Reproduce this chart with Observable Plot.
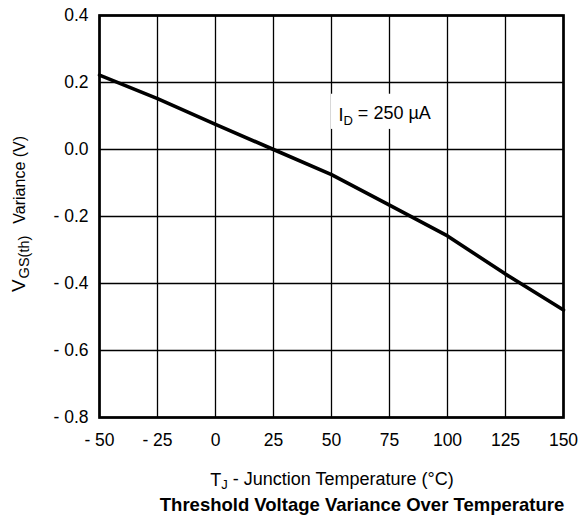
<!DOCTYPE html>
<html><head><meta charset="utf-8">
<script src="https://cdn.jsdelivr.net/npm/d3@7"></script>
<script src="https://cdn.jsdelivr.net/npm/@observablehq/plot@0.6"></script>
<style>
body{margin:0;background:#fff;font-family:"Liberation Sans",Arial,Helvetica,sans-serif;}
#chart{width:578px;height:494px;}
#title{width:578px;box-sizing:border-box;padding-left:146px;margin-top:1px;text-align:center;font-weight:bold;font-size:18.5px;line-height:20px;color:#000;white-space:nowrap;}
</style></head><body>
<div id="chart"></div>
<div id="title">Threshold Voltage Variance Over Temperature</div>
<script>
const temperature = [-50, -25, 0, 25, 50, 75, 100, 125, 150];
const variance = [0.222, 0.152, 0.075, 0.0, -0.075, -0.166, -0.258, -0.372, -0.479];
const xTicks = [-50, -25, 0, 25, 50, 75, 100, 125, 150];
const yTicks = [0.4, 0.2, 0.0, -0.2, -0.4, -0.6, -0.8];
const annotationMain = "I";
const annotationSub = "D";
const annotationRest = " = 250 µA";
const annotationAt = [53, 0.103];
const annotationBoxX = [50, 94];
const annotationBoxY = [0.06, 0.165];
const xLabelMain = "T", xLabelSub = "J", xLabelRest = " - Junction Temperature (°C)";
const yLabelMain = "V", yLabelSub = "GS(th)", yLabelRest = "Variance (V)";

const FONT = '"Liberation Sans", Arial, Helvetica, sans-serif';
const data = temperature.map((t, i) => ({t, v: variance[i]}));
const box = [{x1: annotationBoxX[0], x2: annotationBoxX[1], y1: annotationBoxY[0], y2: annotationBoxY[1]}];
const fmtX = d => d < 0 ? "- " + Math.abs(d) : String(d);
const fmtY = d => d < 0 ? "- " + Math.abs(d).toFixed(1) : d.toFixed(1);
const annText = annotationMain + annotationSub + annotationRest;

const plot = Plot.plot({
  width: 578, height: 494,
  marginLeft: 99, marginRight: 15, marginTop: 15, marginBottom: 77,
  style: {fontFamily: FONT, fontSize: "17.5px", color: "#000", background: "#fff"},
  x: {domain: [-50, 150]},
  y: {domain: [-0.8, 0.4]},
  marks: [
    Plot.gridX(xTicks, {stroke: "#000", strokeOpacity: 1, strokeWidth: 1.3}),
    Plot.gridY(yTicks, {stroke: "#000", strokeOpacity: 1, strokeWidth: 1.3}),
    Plot.rect(box, {x1: "x1", x2: "x2", y1: "y1", y2: "y2", fill: "#fff"}),
    Plot.axisX(xTicks, {tickSize: 0, tickPadding: 16, tickFormat: fmtX, fontSize: 17.5, label: null}),
    Plot.axisY(yTicks, {tickSize: 0, tickPadding: 11, tickFormat: fmtY, fontSize: 17.5, label: null}),
    Plot.frame({stroke: "#000", strokeWidth: 2.7}),
    Plot.line(data, {x: "t", y: "v", stroke: "#000", strokeWidth: 3.6, strokeLinejoin: "round"}),
    Plot.text([annText], {x: () => annotationAt[0], y: () => annotationAt[1], text: d => d, textAnchor: "start", fontSize: 18, fill: "#000"})
  ]
});
document.getElementById("chart").appendChild(plot);

const sx = plot.scale("x"), sy = plot.scale("y");
const svg = d3.select(plot);

// annotation with subscript
svg.selectAll("text").filter(function(){ return this.textContent === annText; }).each(function(){
  const t = d3.select(this); t.text(null);
  t.append("tspan").text(annotationMain);
  t.append("tspan").attr("font-size", 13).attr("dy", "0.3em").text(annotationSub);
  t.append("tspan").attr("dy", "-0.3em").text(annotationRest);
});

// x axis label
const xMid = (sx.range[0] + sx.range[1]) / 2;
const yBottom = Math.max(...sy.range);
const xl = svg.append("text").attr("x", xMid + 1).attr("y", yBottom + 69)
  .attr("text-anchor", "middle").attr("font-size", 18).attr("fill", "#000").attr("font-family", FONT);
xl.append("tspan").text(xLabelMain);
xl.append("tspan").attr("font-size", 13).attr("dy", "0.25em").text(xLabelSub);
xl.append("tspan").attr("dy", "-0.25em").text(xLabelRest);

// y axis label
const yMid = (sy.range[0] + sy.range[1]) / 2;
const yl = svg.append("text").attr("transform", `translate(25,${yMid - 2}) rotate(-90)`)
  .attr("text-anchor", "middle").attr("font-size", 16).attr("fill", "#000").attr("font-family", FONT);
yl.append("tspan").attr("font-size", 19).text(yLabelMain);
yl.append("tspan").attr("font-size", 14.5).attr("dy", "0.3em").attr("dx", 1).text(yLabelSub);
yl.append("tspan").attr("dy", "-0.3em").attr("dx", 12).text(yLabelRest);
</script>
</body></html>
